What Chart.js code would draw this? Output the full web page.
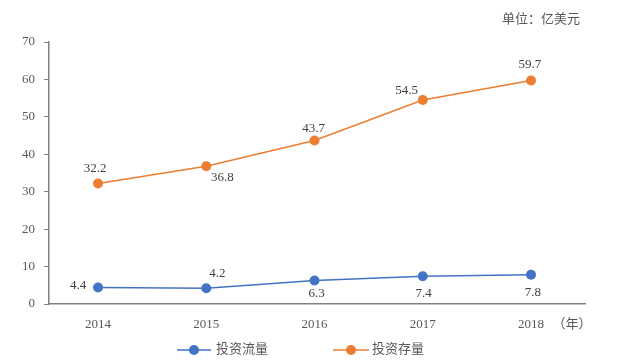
<!DOCTYPE html>
<html><head><meta charset="utf-8">
<script src="https://cdn.jsdelivr.net/npm/chart.js@4/dist/chart.umd.min.js"></script>
<style>html,body{margin:0;padding:0;background:#fff}canvas{display:block}</style>
</head><body>
<canvas id="c" width="618" height="362"></canvas>
<script>
const years = [2014, 2015, 2016, 2017, 2018];
const flowValues = [4.4, 4.2, 6.3, 7.4, 7.8];
const stockValues = [32.2, 36.8, 43.7, 54.5, 59.7];
const yTicks = [0, 10, 20, 30, 40, 50, 60, 70];
const seriesNames = ['投资流量', '投资存量'];
const unitLabel = '单位：亿美元';
const xUnitLabel = '（年）';

// label placement offsets (style only)
const flowLabelOffsets = [[-20,-2],[11,-15],[2,13],[1,17],[2,18]];
const stockLabelOffsets = [[-3,-15],[16,11],[-1,-12],[-16,-9],[-1,-16]];

const BLUE = '#4472C4', ORANGE = '#ED7D31', AXIS = '#808080', TXT = '#595959';
const FONT = '"Liberation Serif", "Times New Roman", serif';
const CJK = '"Liberation Serif", "Noto Sans CJK SC", serif';
const CJKONLY = '"Noto Sans CJK SC", serif';

const extras = {
  id: 'extras',
  afterDatasetsDraw(chart) {
    const ctx = chart.ctx;
    ctx.save();
    ctx.font = '13px ' + FONT;
    ctx.fillStyle = '#404040';
    ctx.textAlign = 'center';
    ctx.textBaseline = 'middle';
    const offs = [flowLabelOffsets, stockLabelOffsets];
    chart.data.datasets.forEach((ds, di) => {
      const meta = chart.getDatasetMeta(di);
      meta.data.forEach((pt, i) => {
        const v = ds.data[i].y;
        ctx.fillText(v.toFixed(1), pt.x + offs[di][i][0], pt.y + offs[di][i][1]);
      });
    });
    // unit label
    ctx.font = '13px ' + CJK;
    ctx.fillStyle = TXT;
    ctx.textAlign = 'right';
    ctx.fillText(unitLabel, 580, 20);
    // x unit
    ctx.font = '13px ' + CJKONLY;
    ctx.textAlign = 'center';
    ctx.fillText(xUnitLabel, 572, 323);
    // legend
    ctx.font = '13px ' + CJK;
    const items = [[BLUE, 177, 211, 194, 216], [ORANGE, 333, 369, 351, 372]];
    items.forEach((it, k) => {
      ctx.strokeStyle = it[0];
      ctx.lineWidth = 1.5;
      ctx.beginPath(); ctx.moveTo(it[1], 350); ctx.lineTo(it[2], 350); ctx.stroke();
      ctx.fillStyle = it[0];
      ctx.beginPath(); ctx.arc(it[3], 350, 5, 0, Math.PI*2); ctx.fill();
      ctx.fillStyle = TXT;
      ctx.textAlign = 'left';
      ctx.fillText(seriesNames[k], it[4], 350);
    });
    ctx.restore();
  }
};

new Chart(document.getElementById('c'), {
  type: 'line',
  data: {
    datasets: [
      { label: seriesNames[0], data: years.map((y,i)=>({x:y,y:flowValues[i]})), borderColor: BLUE, backgroundColor: BLUE,
        borderWidth: 1.5, pointRadius: 5, pointBorderWidth: 0, tension: 0 },
      { label: seriesNames[1], data: years.map((y,i)=>({x:y,y:stockValues[i]})), borderColor: ORANGE, backgroundColor: ORANGE,
        borderWidth: 1.5, pointRadius: 5, pointBorderWidth: 0, tension: 0 }
    ]
  },
  options: {
    responsive: false,
    animation: false,
    layout: { padding: { top: 42, right: 33, left: 0, bottom: 0 } },
    plugins: { legend: { display: false }, tooltip: { enabled: false } },
    scales: {
      x: {
        type: 'linear',
        min: 2013.547, max: 2018.499,
        afterBuildTicks: s => { s.ticks = years.map(v => ({ value: v })); },
        afterFit: s => { s.height = 58; },
        grid: { display: true, drawOnChartArea: false, drawTicks: false },
        border: { display: true, color: AXIS, width: 1.5 },
        ticks: { padding: 13, color: TXT, font: { family: FONT, size: 13 }, callback: v => String(v), autoSkip: false, maxRotation: 0 }
      },
      y: {
        min: 0, max: 70,
        afterBuildTicks: s => { s.ticks = yTicks.map(v => ({ value: v })); },
        afterFit: s => { s.width = 49; },
        grid: { drawOnChartArea: false, drawTicks: true, tickLength: 5, color: AXIS },
        border: { display: true, color: AXIS, width: 1.5 },
        ticks: { padding: 9, color: TXT, font: { family: FONT, size: 13 } }
      }
    }
  },
  plugins: [extras]
});
</script>
</body></html>
